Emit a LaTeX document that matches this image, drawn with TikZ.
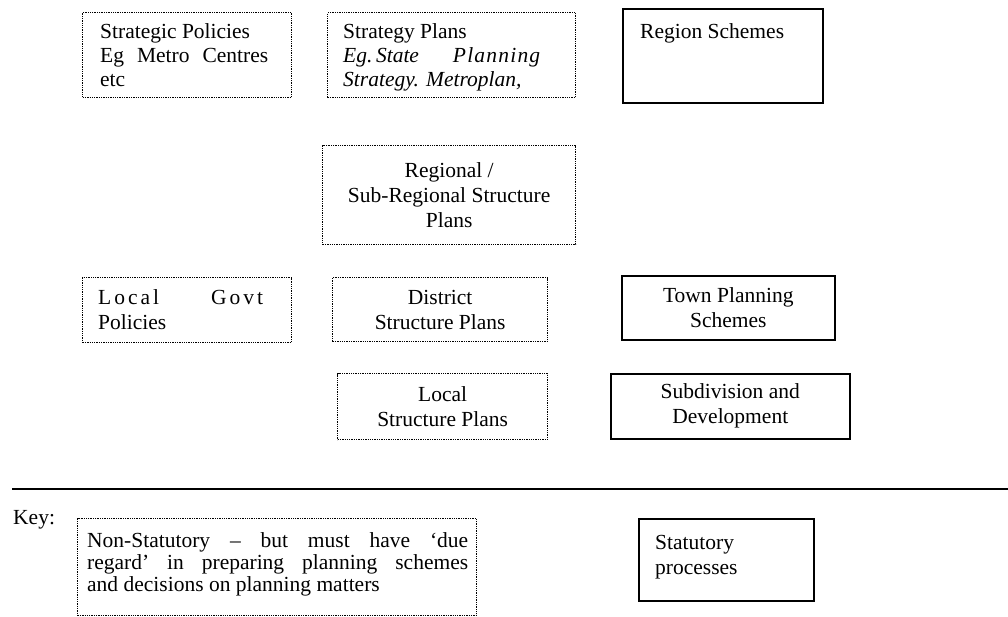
\documentclass[tikz,border=0pt]{standalone}
\usepackage{fontspec}
\setmainfont{Liberation Serif}
\newcommand\myfs{\fontsize{21.5}{25}\selectfont}
\newcommand\myfstop{\fontsize{21.5}{24}\selectfont}
\newcommand\myfskey{\fontsize{21.5}{22}\selectfont}
\tikzset{
  nsbox/.style={draw, densely dotted, line width=1.3pt, inner sep=0pt, anchor=north west},
  sbox/.style={draw, line width=1.6pt, inner sep=0pt, anchor=north west},
  ctxt/.style={font=\myfs, align=center},
  ltxt/.style={font=\myfs, align=left, inner sep=0pt},
}
\begin{document}
\begin{tikzpicture}[x=1pt,y=-1pt]
\useasboundingbox (0,0) rectangle (1008,616);
% top row
\node[nsbox, minimum width=209pt, minimum height=85pt] (b1) at (82,12) {};
\node[ltxt, font=\myfstop, anchor=north west] (t1) at (100,23) {Strategic Policies\\ \makebox[168pt][s]{Eg Metro Centres}\\ etc};
\node[nsbox, minimum width=248pt, minimum height=85pt] (b2) at (327,12) {};
\node[ltxt, font=\myfstop, anchor=north west] (t2) at (343,23) {Strategy Plans\\ \makebox[197pt][s]{\itshape Eg.\,State\hfill P\kern1.2pt l\kern1.2pt a\kern1.2pt n\kern1.2pt n\kern1.2pt i\kern1.2pt n\kern1.2pt g}\\ \itshape Strategy. Metroplan,};
\node[sbox, minimum width=200pt, minimum height=94pt] (b3) at (622,8) {};
\node[ltxt, anchor=north west] (t3) at (640,23) {Region Schemes};
% regional
\node[nsbox, minimum width=253pt, minimum height=99pt, ctxt] (reg) at (322,145) {Regional /\\ Sub-Regional Structure\\ Plans};
% third row
\node[nsbox, minimum width=209pt, minimum height=65pt] (lg) at (82,277) {};
\node[ltxt, anchor=west] (tlg) at (98,309.5) {\makebox[165pt][s]{L\kern3pt o\kern3pt c\kern3pt a\kern3pt l\hfill G\kern3pt o\kern3pt v\kern3pt t}\\ Policies};
\node[nsbox, minimum width=215pt, minimum height=64pt, ctxt] (dsp) at (332,277) {District\\ Structure Plans};
\node[sbox, minimum width=213pt, minimum height=64pt, ctxt] (tps) at (621,275) {Town Planning\\ Schemes};
% fourth row
\node[nsbox, minimum width=210pt, minimum height=66pt, ctxt] (lsp) at (337,373) {Local\\ Structure Plans};
\node[sbox, minimum width=239pt, minimum height=65pt, ctxt] (sub) at (610,373) {Subdivision and\\ Development};
% separator
\coordinate (l1) at (12,489);
\coordinate (l2) at (1008,489);
\draw[line width=1.5pt] (l1) -- (l2);
% key
\node[font=\myfs, anchor=base west, inner sep=0pt] (key) at (13,524) {Key:};
\node[nsbox, minimum width=399pt, minimum height=97pt] (kb) at (77,518) {};
\node[ltxt, font=\myfskey, anchor=west] (tkb) at (87,564) {\makebox[381pt][s]{Non-Statutory – but must have ‘due}\\ \makebox[381pt][s]{regard’ in preparing planning schemes}\\ and decisions on planning matters};
\node[sbox, minimum width=175pt, minimum height=82pt] (ks) at (638,518) {};
\node[ltxt, anchor=north west] (tks) at (655,535) {Statutory\\ processes};
\end{tikzpicture}
\end{document}
